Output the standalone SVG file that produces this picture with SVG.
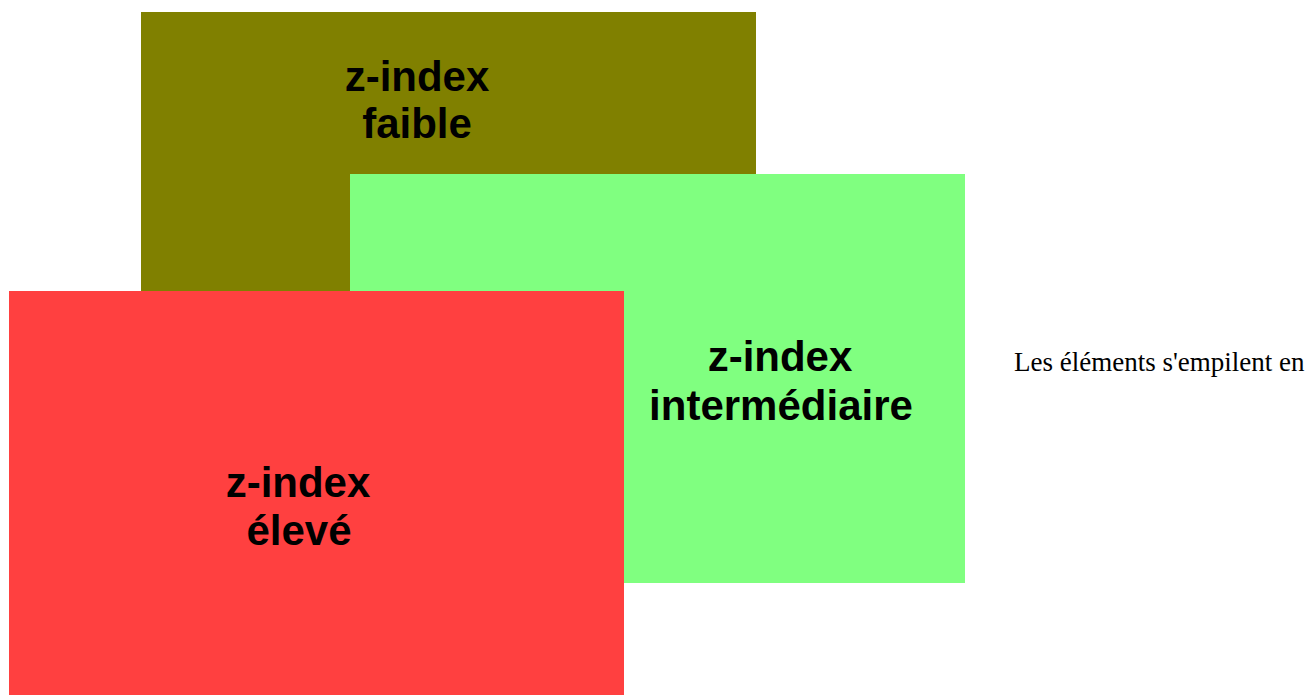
<svg xmlns="http://www.w3.org/2000/svg" width="1305" height="695" viewBox="0 0 1305 695">
<style>
.lbl{font-family:"Liberation Sans",Arial,sans-serif;font-weight:bold;font-size:42px;fill:#000;text-anchor:middle}
.cap{font-family:"Liberation Serif","Times New Roman",serif;font-size:27px;fill:#000}
</style>
<rect width="1305" height="695" fill="#fff"/>
<g id="faible">
<rect x="141" y="12" width="615" height="420" fill="#808000"/>
<text class="lbl" x="417" y="91">z-index</text>
<text class="lbl" x="417" y="138">faible</text>
</g>
<g id="intermediaire">
<rect x="350" y="174" width="615" height="409" fill="#80ff80"/>
<text class="lbl" x="780" y="371">z-index</text>
<text class="lbl" x="781" y="420">intermédiaire</text>
</g>
<g id="eleve">
<rect x="9" y="291" width="615" height="404" fill="#ff4040"/>
<text class="lbl" x="298" y="497">z-index</text>
<text class="lbl" x="299" y="545">élevé</text>
</g>
<g id="connectors"/>
<text class="cap" x="1014" y="371">Les éléments s'empilent en</text>
</svg>
